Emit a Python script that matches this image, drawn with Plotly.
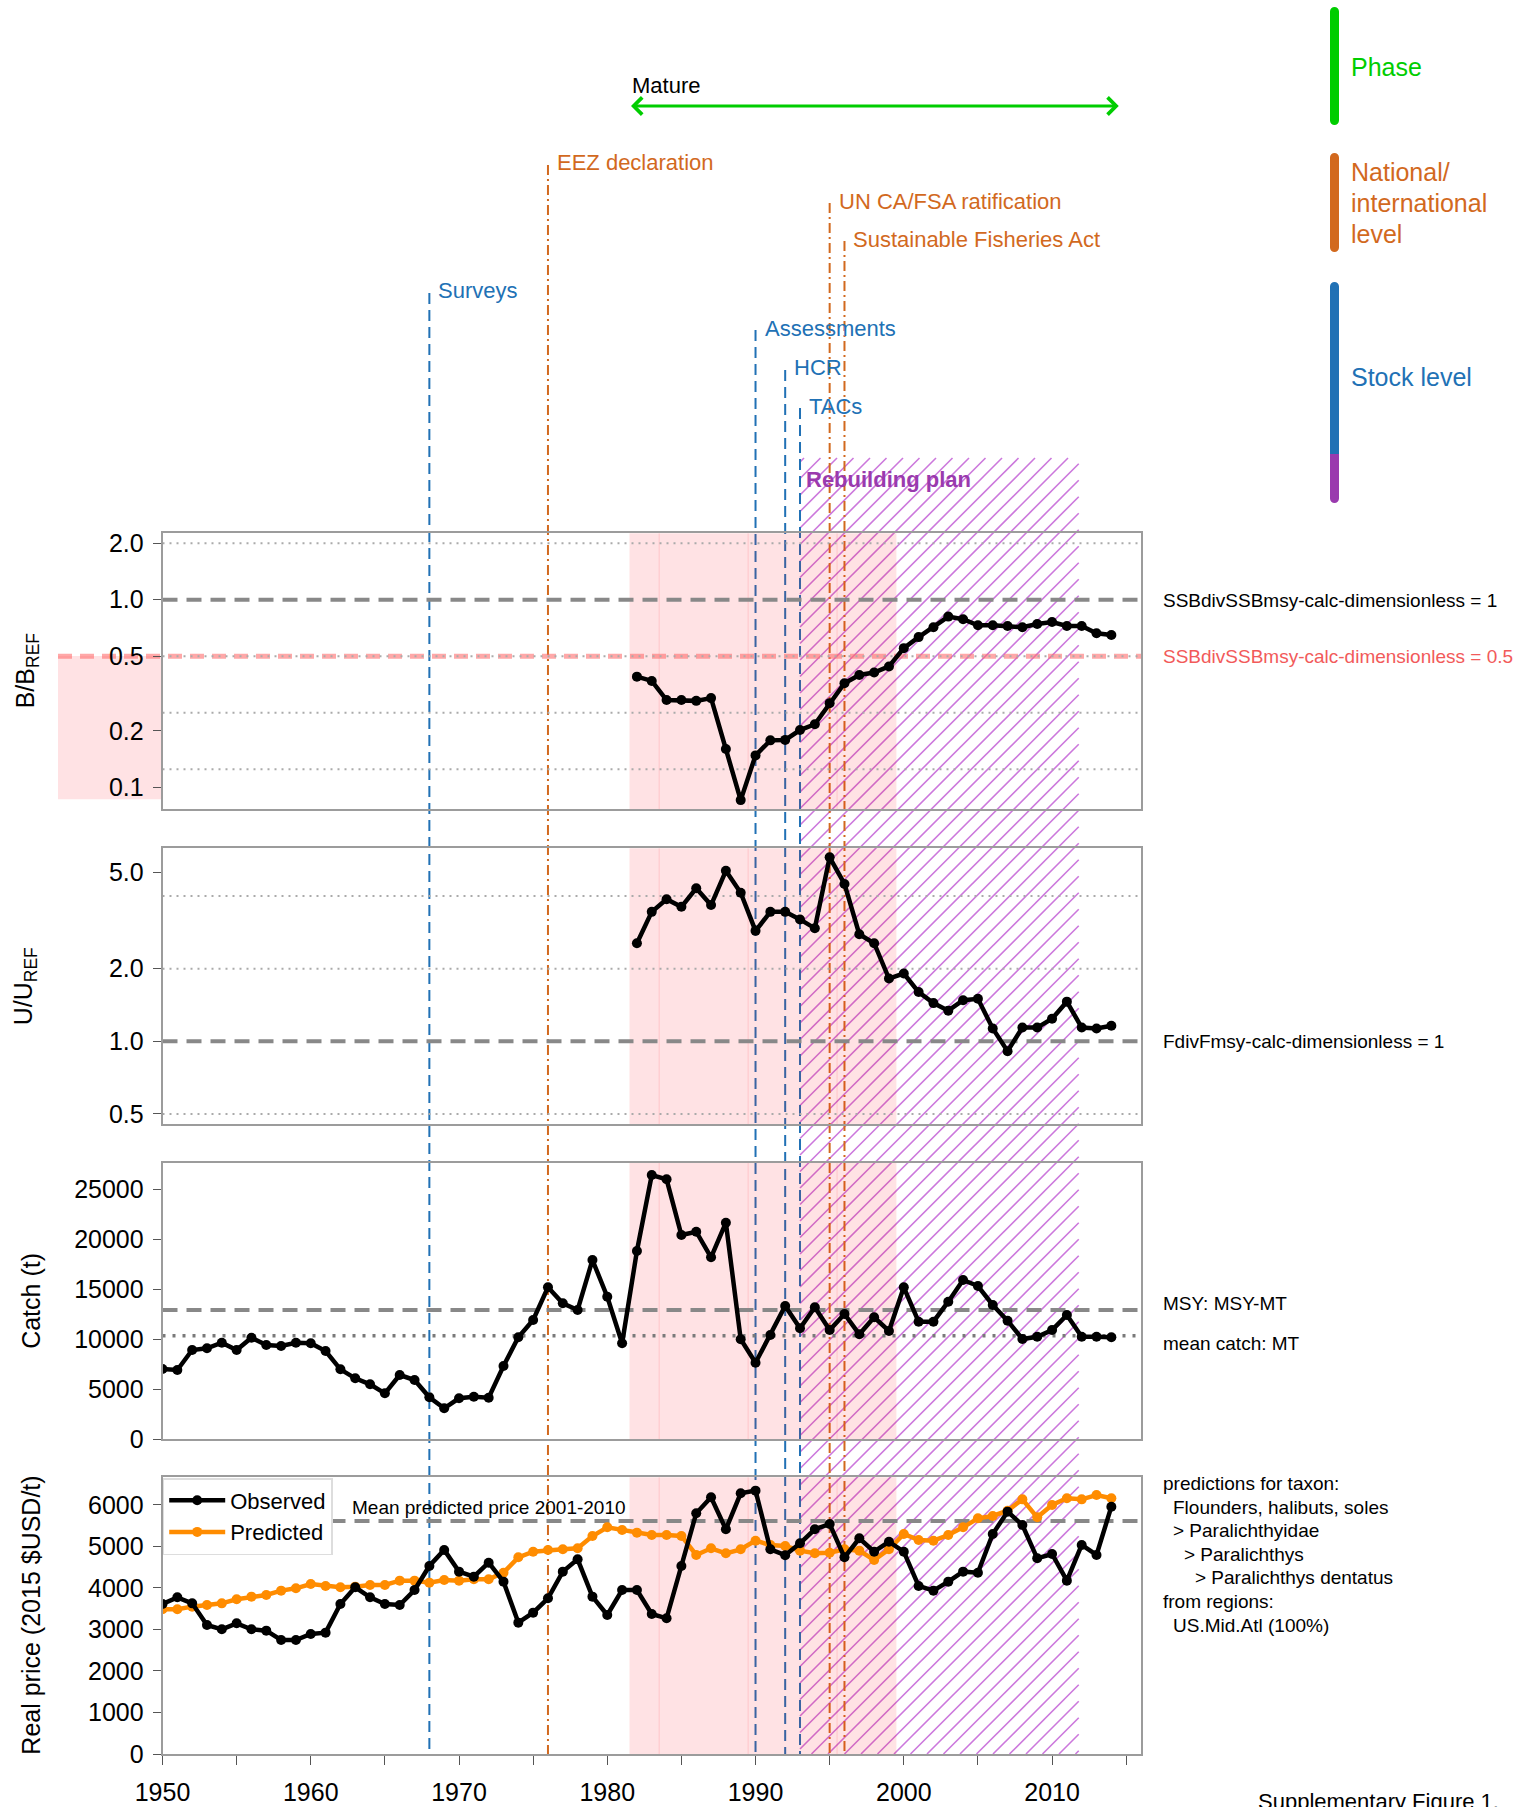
import plotly.graph_objects as go

# ---------------------------------------------------------------- data
years = list(range(1950, 2015))
stock_years = list(range(1982, 2015))

b_ratio = [0.389, 0.369, 0.292, 0.292, 0.289, 0.299, 0.160, 0.0855, 0.148, 0.178,
           0.179, 0.202, 0.217, 0.281, 0.359, 0.397, 0.409, 0.441, 0.552, 0.632,
           0.714, 0.813, 0.787, 0.731, 0.731, 0.724, 0.714, 0.743, 0.761, 0.724,
           0.724, 0.663, 0.649]

u_ratio = [2.55, 3.44, 3.88, 3.61, 4.31, 3.67, 5.09, 4.13, 2.87, 3.44,
           3.44, 3.20, 2.94, 5.79, 4.49, 2.78, 2.55, 1.82, 1.91, 1.60,
           1.44, 1.34, 1.48, 1.50, 1.13, 0.91, 1.14, 1.14, 1.24, 1.46,
           1.14, 1.13, 1.16]

catch = [7000, 6900, 8900, 9070, 9630, 8900, 10130, 9400, 9300, 9630,
         9570, 8800, 6970, 6070, 5470, 4570, 6400, 5900, 4170, 3070,
         4070, 4230, 4130, 7300, 10170, 11900, 15170, 13570, 12900, 17900,
         14230, 9570, 18800, 26400, 25970, 20400, 20730, 18170, 21630, 9970,
         7630, 10400, 13300, 11070, 13170, 10900, 12500, 10470, 12170, 10800,
         15170, 11730, 11730, 13730, 15900, 15300, 13400, 11830, 10000, 10230,
         10900, 12400, 10230, 10230, 10170]

price_observed = [3614, 3775, 3630, 3108, 3004, 3149, 3004, 2972, 2747, 2747,
                  2892, 2924, 3614, 4016, 3775, 3614, 3590, 3952, 4530, 4916,
                  4394, 4273, 4610, 4153, 3165, 3406, 3751, 4394, 4691, 3791,
                  3349, 3952, 3952, 3373, 3269, 4530, 5799, 6185, 5414, 6281,
                  6345, 4932, 4790, 5076, 5414, 5542, 4739, 5197, 4875, 5116,
                  4875, 4048, 3936, 4153, 4394, 4369, 5301, 5839, 5518, 4715,
                  4819, 4177, 5036, 4795, 5959]

price_predicted = [3486, 3486, 3550, 3590, 3630, 3727, 3791, 3831, 3936, 3992,
                   4096, 4048, 4016, 4032, 4072, 4072, 4177, 4177, 4129, 4193,
                   4177, 4209, 4209, 4369, 4739, 4875, 4916, 4932, 4956, 5253,
                   5462, 5398, 5333, 5277, 5277, 5253, 4795, 4956, 4835, 4932,
                   5140, 5036, 5012, 4900, 4835, 4851, 4932, 4900, 4675, 4932,
                   5301, 5157, 5140, 5277, 5462, 5679, 5735, 5863, 6136, 5703,
                   6000, 6161, 6136, 6241, 6161]

MSY = 12900
MEAN_CATCH = 10330
mean_pred_price = sum(p for y, p in zip(years, price_predicted) if 2001 <= y <= 2010) / 10

# management events: (label, year, kind)
events = [
    ("Surveys", 1968, "stock"),
    ("EEZ declaration", 1976, "national"),
    ("Assessments", 1990, "stock"),
    ("HCR", 1992, "stock"),
    ("TACs", 1993, "stock"),
    ("UN CA/FSA ratification", 1995, "national"),
    ("Sustainable Fisheries Act", 1996, "national"),
]
event_label_y = [291, 163, 328, 368, 406, 201, 239]

PHASE = ("Mature", 1981.5, 2014.5)
REBUILD = ("Rebuilding plan", 1993, 2011.8)
BELOW_LIMIT = (1981.5, 1999.5)
BELOW_LIMIT_SPLITS = [1983.5, 1989.5, 1995.5]

# ---------------------------------------------------------------- layout geometry
W, H = 1529, 1807
FONT = "Liberation Sans, Arial, sans-serif"
X_RANGE = [1950, 2016]
X_PX = (162.5, 1141.0)
PANELS = [(533.3, 809.3), (848.3, 1124.3), (1162.7, 1439.0), (1477.3, 1754.0)]

GREEN = "#00CD00"
ORANGE = "#D2691E"
BLUE = "#2171B5"
PURPLE = "#9A3AAE"
HATCH = "#CC78DC"
PINK = "rgba(255,0,20,0.115)"
GREY_DASH = "#888888"
GREY_DOT = "#AAAAAA"


def fx(p):
    return p / W


def fy(p):
    return 1 - p / H


def year_px(yr):
    return X_PX[0] + (yr - X_RANGE[0]) * (X_PX[1] - X_PX[0]) / (X_RANGE[1] - X_RANGE[0])


fig = go.Figure()

line_style = dict(color="black", width=4.5)
marker_style = dict(color="black", size=10)

fig.add_trace(go.Scatter(x=stock_years, y=b_ratio, mode="lines+markers", line=line_style,
                         marker=marker_style, xaxis="x", yaxis="y", showlegend=False))
fig.add_trace(go.Scatter(x=stock_years, y=u_ratio, mode="lines+markers", line=line_style,
                         marker=marker_style, xaxis="x2", yaxis="y2", showlegend=False))
fig.add_trace(go.Scatter(x=years, y=catch, mode="lines+markers", line=line_style,
                         marker=marker_style, xaxis="x3", yaxis="y3", showlegend=False))
fig.add_trace(go.Scatter(x=years, y=price_predicted, mode="lines+markers", name="Predicted",
                         line=dict(color="#FF8C00", width=4.5), marker=dict(color="#FF8C00", size=10),
                         xaxis="x4", yaxis="y4", legendrank=2))
fig.add_trace(go.Scatter(x=years, y=price_observed, mode="lines+markers", name="Observed",
                         line=line_style, marker=marker_style, xaxis="x4", yaxis="y4", legendrank=1))

shapes = []
annotations = []

# pink box flagging the region below the biomass limit, left of the first panel
shapes.append(dict(type="rect", xref="paper", yref="paper", x0=fx(58), x1=fx(X_PX[0]),
                   y0=fy(799.3), y1=fy(656), fillcolor=PINK, line=dict(width=0), layer="below"))

# rebuilding-plan hatching (45 degree lines spanning all panels)
hx0, hx1 = year_px(REBUILD[1]), year_px(REBUILD[2])
hy0, hy1 = 458.0, PANELS[-1][1]
spacing = 16.5
c = hx0 + hy0 + 4
while c < hx1 + hy1:
    xa = max(hx0, c - hy1)
    xb = min(hx1, c - hy0)
    if xb > xa:
        shapes.append(dict(type="line", xref="paper", yref="paper",
                           x0=fx(xa), y0=fy(c - xa), x1=fx(xb), y1=fy(c - xb),
                           line=dict(color=HATCH, width=1.6), layer="below"))
    c += spacing

# management event lines
for (label, yr, kind), ly in zip(events, event_label_y):
    col = BLUE if kind == "stock" else ORANGE
    dash = "11px,6px" if kind == "stock" else "10px,4px,2px,4px"
    shapes.append(dict(type="line", xref="x4", yref="paper", x0=yr, x1=yr,
                       y0=fy(ly + 2), y1=fy(PANELS[-1][1]),
                       line=dict(color=col, width=2, dash=dash), layer="below"))
    annotations.append(dict(text=label, xref="paper", yref="paper", x=fx(year_px(yr) + 7), y=fy(ly),
                            xanchor="left", yanchor="middle", showarrow=False,
                            font=dict(family=FONT, size=22, color=col)))

annotations.append(dict(text="<b>Rebuilding plan</b>", xref="paper", yref="paper",
                        x=fx(year_px(REBUILD[1]) + 4), y=fy(480), xanchor="left", yanchor="middle",
                        showarrow=False, font=dict(family=FONT, size=22, color=PURPLE)))

# phase arrow
arrow_y = fy(106)
annotations.append(dict(text="", xref="x4", yref="paper", x=PHASE[2], y=arrow_y,
                        axref="x4", ayref="pixel", ax=PHASE[1], ay=0,
                        showarrow=True, arrowside="end+start", arrowhead=4, startarrowhead=4,
                        arrowsize=1.1, startarrowsize=1.1, arrowwidth=3, arrowcolor=GREEN,
                        standoff=0, startstandoff=0))
annotations.append(dict(text=PHASE[0], xref="x4", yref="paper", x=PHASE[1], y=fy(86),
                        xanchor="left", yanchor="middle", showarrow=False,
                        font=dict(family=FONT, size=22, color="black")))

# per-panel axes, shading and reference lines
sub = ["", "2", "3", "4"]
layout_axes = {}
for i, (top, bot) in enumerate(PANELS):
    s = sub[i]
    xd = dict(domain=[fx(X_PX[0]), fx(X_PX[1])], range=X_RANGE, anchor="y" + s, automargin=False,
              showline=True, linecolor="#9C9C9C", linewidth=1.6, mirror=True,
              showgrid=False, zeroline=False, showticklabels=False, ticks="")
    if i > 0:
        xd["matches"] = "x"
    layout_axes["xaxis" + s] = xd
    yd = dict(domain=[fy(bot), fy(top)], anchor="x" + s, automargin=False, showline=True,
              linecolor="#9C9C9C", linewidth=1.6, mirror=True, showgrid=False, zeroline=False,
              ticks="outside", ticklen=8, tickwidth=1.4, tickcolor="#555555",
              tickfont=dict(family=FONT, size=25, color="black"), ticklabelstandoff=4)
    layout_axes["yaxis" + s] = yd

    yref_dom = "y" + s + " domain"
    shapes.append(dict(type="rect", xref="x" + s, yref=yref_dom, x0=BELOW_LIMIT[0], x1=BELOW_LIMIT[1],
                       y0=0, y1=1, fillcolor=PINK, line=dict(width=0), layer="below"))
    for xs in BELOW_LIMIT_SPLITS:
        shapes.append(dict(type="line", xref="x" + s, yref=yref_dom, x0=xs, x1=xs, y0=0, y1=1,
                           line=dict(color="rgba(255,0,20,0.13)", width=1), layer="below"))

layout_axes["yaxis"].update(type="log", range=[-1.117, 0.354],
                            tickvals=[0.1, 0.2, 0.5, 1, 2], ticktext=["0.1", "0.2", "0.5", "1.0", "2.0"])
layout_axes["yaxis2"].update(type="log", range=[-0.344, 0.800],
                             tickvals=[0.5, 1, 2, 5], ticktext=["0.5", "1.0", "2.0", "5.0"])
catch_ticks = list(range(0, 25001, 5000))
layout_axes["yaxis3"].update(range=[0, 27630], tickvals=catch_ticks, ticktext=[str(v) for v in catch_ticks])
price_ticks = list(range(0, 6001, 1000))
layout_axes["yaxis4"].update(range=[0, 6667], tickvals=price_ticks, ticktext=[str(v) for v in price_ticks])
layout_axes["xaxis4"].update(showticklabels=True, ticks="outside", ticklen=9, tickwidth=1.4,
                             tickcolor="#555555", tickvals=list(range(1950, 2016, 5)),
                             ticktext=[str(v) if v % 10 == 0 else "" for v in range(1950, 2016, 5)],
                             tickfont=dict(family=FONT, size=25, color="black"), ticklabelstandoff=6)


def hline(s, val, color, width, dash):
    shapes.append(dict(type="line", xref="x" + s + " domain", yref="y" + s, x0=0, x1=1, y0=val, y1=val,
                       line=dict(color=color, width=width, dash=dash), layer="below"))


# biomass panel
shapes.append(dict(type="line", xref="paper", yref="y", x0=fx(58), x1=fx(X_PX[1]), y0=0.5, y1=0.5,
                   line=dict(color="rgba(255,110,110,0.6)", width=5, dash="14px,8px"), layer="below"))
for v in [2, 0.5, 0.25, 0.125]:
    hline("", v, GREY_DOT, 2, "2px,5px")
hline("", 1, GREY_DASH, 4, "15px,9px")
# fishing pressure panel
for v in [4, 2, 0.5]:
    hline("2", v, GREY_DOT, 2, "2px,5px")
hline("2", 1, GREY_DASH, 4, "15px,9px")
# catch panel
hline("3", MSY, GREY_DASH, 4, "15px,9px")
hline("3", MEAN_CATCH, "#7A7A7A", 3.5, "3px,7px")
# price panel
hline("4", mean_pred_price, GREY_DASH, 4, "15px,9px")

# right-hand key bars
def key_bar(y0, y1, color, cap_top=True, cap_bot=True):
    xc = 1334.5
    r = 4.5
    shapes.append(dict(type="rect", xref="paper", yref="paper", x0=fx(xc - r), x1=fx(xc + r),
                       y0=fy(y1), y1=fy(y0), fillcolor=color, line=dict(width=0)))
    for yy, on in [(y0, cap_top), (y1, cap_bot)]:
        if on:
            shapes.append(dict(type="circle", xref="paper", yref="paper", x0=fx(xc - r), x1=fx(xc + r),
                               y0=fy(yy + r), y1=fy(yy - r), fillcolor=color, line=dict(width=0)))


key_bar(11.5, 120.5, GREEN)
key_bar(157.5, 247.5, ORANGE)
key_bar(286.5, 454, BLUE, cap_bot=False)
key_bar(454, 498.5, PURPLE, cap_top=False)


def text(t, xp, yp, size=19, color="black", anchor="left", **kw):
    annotations.append(dict(text=t, xref="paper", yref="paper", x=fx(xp), y=fy(yp), xanchor=anchor,
                            yanchor="middle", showarrow=False,
                            font=dict(family=FONT, size=size, color=color), **kw))


text("Phase", 1349, 67, 25, GREEN)
text("National/", 1349, 172, 25, ORANGE)
text("international", 1349, 203, 25, ORANGE)
text("level", 1349, 234, 25, ORANGE)
text("Stock level", 1349, 377, 25, BLUE)

text("SSBdivSSBmsy-calc-dimensionless = 1", 1161, 600)
text("SSBdivSSBmsy-calc-dimensionless = 0.5", 1161, 656, color="#F25A5A")
text("FdivFmsy-calc-dimensionless = 1", 1161, 1041)
text("MSY: MSY-MT", 1161, 1303)
text("mean catch: MT", 1161, 1343)
text("Mean predicted price 2001-2010", 350, 1507)

taxon_lines = [("predictions for taxon:", 1161, 1483),
               ("Flounders, halibuts, soles", 1171, 1507),
               ("&gt; Paralichthyidae", 1171, 1530),
               ("&gt; Paralichthys", 1182, 1554),
               ("&gt; Paralichthys dentatus", 1193, 1577),
               ("from regions:", 1161, 1601),
               ("US.Mid.Atl (100%)", 1171, 1625)]
for t, xp, yp in taxon_lines:
    text(t, xp, yp)

# y-axis titles
text("B/B<sub>REF</sub>", 27, (PANELS[0][0] + PANELS[0][1]) / 2, 25, anchor="center", textangle=-90)
text("U/U<sub>REF</sub>", 25, (PANELS[1][0] + PANELS[1][1]) / 2, 25, anchor="center", textangle=-90)
text("Catch (t)", 31, (PANELS[2][0] + PANELS[2][1]) / 2, 25, anchor="center", textangle=-90)
text("Real price (2015 $USD/t)", 31, (PANELS[3][0] + PANELS[3][1]) / 2, 25, anchor="center", textangle=-90)

annotations.append(dict(text="Supplementary Figure 1.", xref="paper", yref="paper", x=fx(1256), y=fy(1787),
                        xanchor="left", yanchor="top", showarrow=False,
                        font=dict(family=FONT, size=22, color="black")))

fig.update_layout(
    template="none",
    width=W, height=H, autosize=False,
    margin=dict(l=0, r=0, t=0, b=0, pad=0, autoexpand=False),
    paper_bgcolor="white", plot_bgcolor="rgba(0,0,0,0)",
    font=dict(family=FONT, color="black"),
    shapes=shapes, annotations=annotations,
    showlegend=True,
    legend=dict(x=fx(162.7), y=fy(1478), xanchor="left", yanchor="top",
                bgcolor="white", bordercolor="#DDDDDD", borderwidth=1.5,
                font=dict(family=FONT, size=22, color="black"), itemwidth=56,
                tracegroupgap=0),
    **layout_axes,
)

fig.write_html("out.html")
